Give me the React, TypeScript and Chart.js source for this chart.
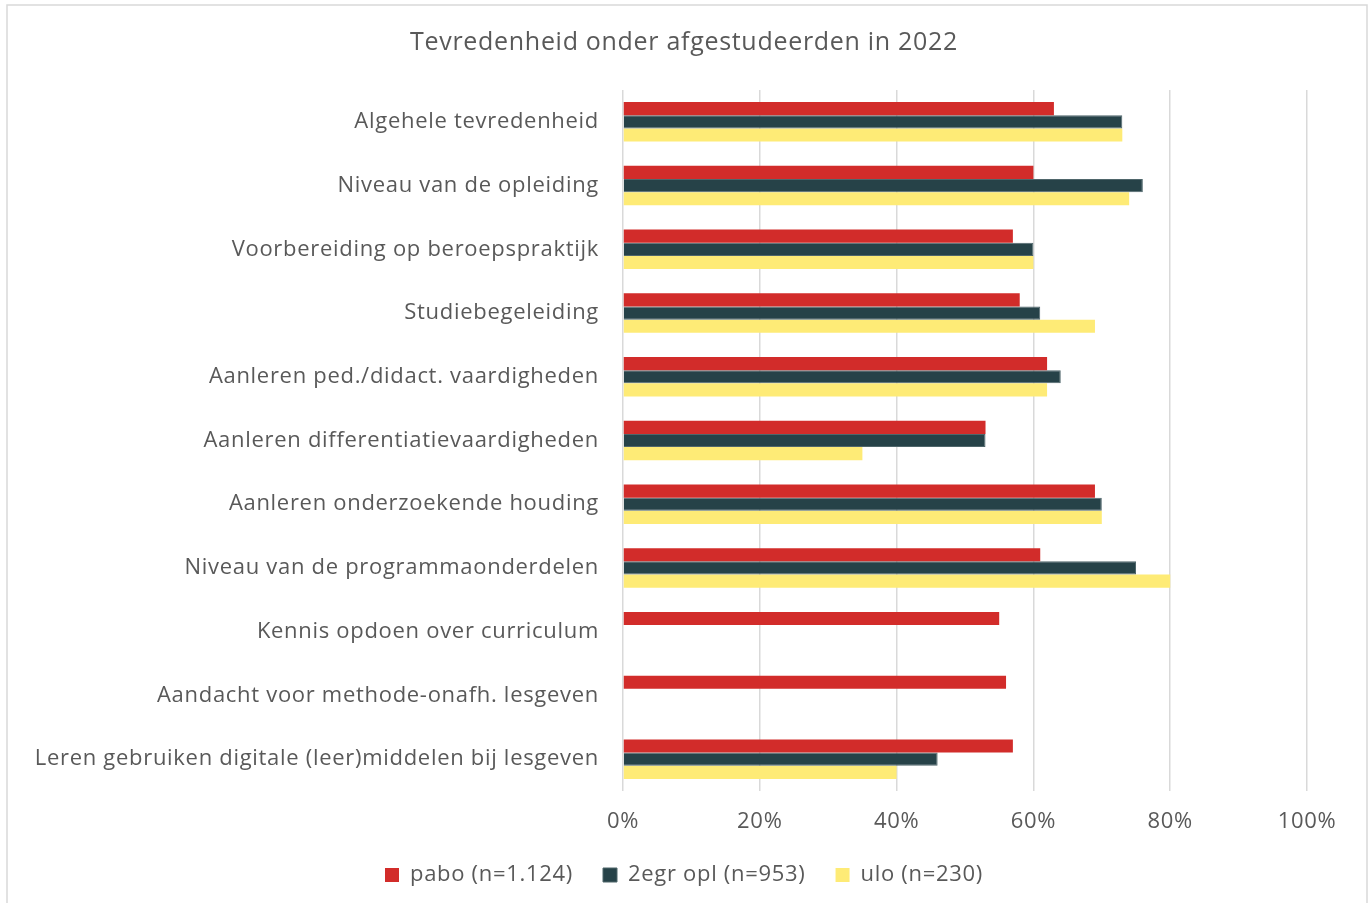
import React, { useEffect, useRef } from "react";
import { Chart, registerables } from "chart.js";

Chart.register(...registerables);

const TITLE = "Tevredenheid onder afgestudeerden in 2022";

const categories = [
  "Algehele tevredenheid",
  "Niveau van de opleiding",
  "Voorbereiding op beroepspraktijk",
  "Studiebegeleiding",
  "Aanleren ped./didact. vaardigheden",
  "Aanleren differentiatievaardigheden",
  "Aanleren onderzoekende houding",
  "Niveau van de programmaonderdelen",
  "Kennis opdoen over curriculum",
  "Aandacht voor methode-onafh. lesgeven",
  "Leren gebruiken digitale (leer)middelen bij lesgeven",
];

const seriesNames = ["pabo (n=1.124)", "2egr opl (n=953)", "ulo (n=230)"];

const pabo = [63, 60, 57, 58, 62, 53, 69, 61, 55, 56, 57];
const tweedegraads = [73, 76, 60, 61, 64, 53, 70, 75, null, null, 46];
const ulo = [73, 74, 60, 69, 62, 35, 70, 80, null, null, 40];

const xTicks = [0, 20, 40, 60, 80, 100];

const COLORS = ["#d22c2a", "#264248", "#feeb76"];
const BORDERS = ["#d93c3a", "#4f666b", "#feeb76"];
const TEXT = "#595959";
const FONT = "'Open Sans'";
const WEIGHT = "normal";
const SPACING = "0.7px";

const frame = {
  id: "frame",
  beforeUpdate(chart: any) {
    chart.ctx.letterSpacing = SPACING;
  },
  beforeLayout(chart: any) {
    chart.ctx.letterSpacing = SPACING;
  },
  beforeDraw(chart: any) {
    const ctx = chart.ctx;
    ctx.letterSpacing = SPACING;
    ctx.save();
    ctx.fillStyle = "#ffffff";
    ctx.fillRect(0, 0, chart.width, chart.height);
    ctx.strokeStyle = "#d9d9d9";
    ctx.lineWidth = 1.5;
    ctx.strokeRect(7, 5, 1360, 1000);
    ctx.restore();
  },
};

export default function App() {
  const ref = useRef<HTMLCanvasElement>(null);
  useEffect(() => {
    if (!ref.current) return;
    const data = [pabo, tweedegraads, ulo];
    const chart = new Chart(ref.current, {
      type: "bar",
      data: {
        labels: categories,
        datasets: seriesNames.map((name, i) => ({
          label: name,
          data: data[i],
          backgroundColor: COLORS[i],
          borderColor: BORDERS[i],
          borderWidth: i === 1 ? 1 : 0,
          categoryPercentage: 0.62,
          barPercentage: 1,
          xAxisID: "x",
          yAxisID: "y",
        })),
      },
      options: {
        indexAxis: "y",
        responsive: false,
        animation: false,
        layout: { padding: { left: 0, right: 0, top: 0, bottom: 7 } },
        plugins: {
          title: {
            display: true,
            text: TITLE,
            color: TEXT,
            font: { family: FONT, size: 25, weight: WEIGHT },
            padding: { top: 28, bottom: 32 },
          },
          legend: {
            position: "bottom",
            labels: {
              color: TEXT,
              font: { family: FONT, size: 22, weight: WEIGHT },
              boxWidth: 14,
              boxHeight: 14,
              padding: 30,
            },
          },
          tooltip: { enabled: false },
        },
        scales: {
          x: {
            type: "linear",
            min: 0,
            max: 100,
            afterBuildTicks: (s: any) => {
              s.ticks = xTicks.map((v) => ({ value: v }));
            },
            afterFit: (s: any) => {
              s.height = 43;
            },
            ticks: {
              color: TEXT,
              font: { family: FONT, size: 22, weight: WEIGHT },
              padding: 18,
              callback: (v: any) => v + "%",
            },
            grid: { color: "#d9d9d9", lineWidth: 1.5, drawTicks: false },
            border: { display: false },
          },
          y: {
            type: "category",
            afterFit: (s: any) => {
              s.width = 623;
            },
            ticks: {
              color: TEXT,
              font: { family: FONT, size: 22, weight: WEIGHT },
              padding: 24,
            },
            grid: { display: false, drawTicks: false },
            border: { display: false },
          },
          yRight: {
            type: "linear",
            position: "right",
            display: true,
            afterFit: (s: any) => {
              s.width = 61;
            },
            ticks: { display: false },
            grid: { display: false, drawTicks: false },
            border: { display: false },
          },
        },
      },
      plugins: [frame],
    });
    return () => chart.destroy();
  }, []);
  return (
    <div style={{ position: "fixed", left: 0, top: 0, width: 1368, height: 903, background: "#fff" }}>
      <canvas ref={ref} width={1368} height={903} style={{ display: "block" }} />
    </div>
  );
}
